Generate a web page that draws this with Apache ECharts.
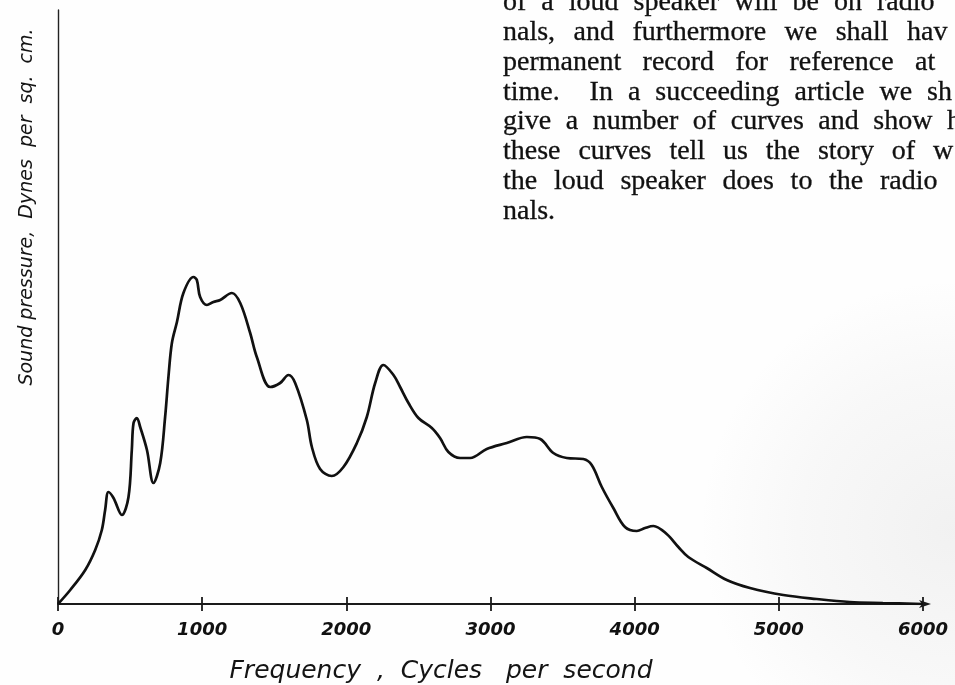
<!DOCTYPE html>
<html>
<head>
<meta charset="utf-8">
<script src="https://cdn.jsdelivr.net/npm/echarts@6/dist/echarts.min.js"></script>
<style>
  html, body { margin: 0; padding: 0; background: #fff; }
  #chart { width: 955px; height: 685px; }
</style>
</head>
<body>
<div id="chart"></div>
<script>
// Loud-speaker response curve: frequency (cycles per second) against
// relative sound pressure (arbitrary units, axis runs 0..594).
const frequencies = [
  0, 85, 189, 258, 304, 327, 350, 385, 443, 489, 512, 524, 547, 570, 617, 662,
  709, 743, 766, 790, 825, 870, 940, 963, 986, 1033, 1078, 1125, 1206, 1264,
  1333, 1379, 1472, 1541, 1599, 1645, 1726, 1761, 1818, 1899, 1980, 2073, 2142,
  2200, 2257, 2327, 2373, 2431, 2500, 2593, 2650, 2708, 2789, 2859, 2974, 3113,
  3252, 3345, 3436, 3529, 3644, 3702, 3772, 3852, 3933, 4015, 4072, 4130, 4222,
  4303, 4372, 4500, 4639, 4800, 5031, 5263, 5492, 5722, 6000
];
const soundPressure = [
  0, 14, 34, 54, 74, 94, 112, 106, 89, 107, 154, 181, 186, 177, 154, 121,
  141, 187, 227, 261, 282, 311, 327, 324, 307, 299, 302, 304, 311, 301,
  271, 247, 217, 221, 229, 221, 184, 157, 135, 128, 137, 161, 187,
  221, 239, 229, 217, 201, 186, 176, 166, 152, 146, 146, 155, 161,
  167, 165, 151, 146, 145, 139, 117, 96, 77, 73, 76, 78, 70,
  57, 47, 36, 24, 16, 9, 5, 2, 1, 0
];
const frequencyTicks = [0, 1000, 2000, 3000, 4000, 5000, 6000];
const xTitle = 'Frequency  ,  Cycles   per  second';
const yTitle = 'Sound pressure,  Dynes  per  sq.  cm.';

// Column of body text beside the figure (clipped by the page edge).
const paragraphLines = [
  'of a loud speaker will be on radio',
  'nals, and furthermore we shall hav',
  'permanent record for reference at',
  'time.  In a succeeding article we sh',
  'give a number of curves and show h',
  'these curves tell us the story of w',
  'the loud speaker does to the radio',
  'nals.'
];

// ---- page layout for the text column ----
const COLUMN_LEFT = 503;
const COLUMN_FIRST_BASELINE = 12;
const COLUMN_LEADING = 29.9;
const COLUMN_FONT_SIZE = 28;
const COLUMN_FONT = COLUMN_FONT_SIZE + 'px "Liberation Serif"';
// where the last word of each justified line begins
const lastWordStart = [877, 907, 915, 927, 947, 933, 880, null];

const measure = document.createElement('canvas').getContext('2d');
measure.font = COLUMN_FONT;

const paragraphGraphics = [];
paragraphLines.forEach(function (line, i) {
  const words = line.split(' ');
  const widths = words.map(function (w) { return measure.measureText(w).width; });
  let gap = 7;
  if (lastWordStart[i] != null && words.length > 1) {
    let used = 0;
    for (let k = 0; k < words.length - 1; k++) used += widths[k];
    gap = (lastWordStart[i] - COLUMN_LEFT - used) / (words.length - 1);
  }
  const baseline = COLUMN_FIRST_BASELINE + i * COLUMN_LEADING;
  let x = COLUMN_LEFT;
  words.forEach(function (w, k) {
    if (w) {
      paragraphGraphics.push({
        type: 'text',
        x: x,
        y: baseline - 9.5,
        style: {
          text: w,
          font: COLUMN_FONT,
          fill: '#111',
          stroke: '#111',
          lineWidth: 0.3,
          align: 'left',
          verticalAlign: 'middle'
        }
      });
    }
    x += widths[k] + gap;
  });
});

const chart = echarts.init(document.getElementById('chart'), null, { renderer: 'canvas' });

chart.setOption({
  animation: false,
  backgroundColor: '#fefefe',
  grid: { left: 58, right: 32, top: 10, bottom: 81, containLabel: false },
  xAxis: [
    {
      type: 'value',
      min: 0,
      max: 6000,
      interval: 1000,
      axisLine: {
        show: true,
        lineStyle: { color: '#1a1a1a', width: 1.8 },
        symbol: ['none', 'arrow'],
        symbolSize: [6, 12],
        symbolOffset: [0, 8]
      },
      axisTick: { show: true, inside: false, length: 7, lineStyle: { color: '#1a1a1a', width: 1.8 } },
      axisLabel: {
        show: true,
        margin: 17,
        fontSize: 18,
        color: '#111',
        fontFamily: '"DejaVu Sans"',
        fontStyle: 'italic',
        fontWeight: 'bold',
        formatter: function (v) {
          return frequencyTicks.indexOf(v) >= 0 ? String(v) : '';
        }
      },
      splitLine: { show: false }
    },
    {
      // upper half of the crossing tick marks
      type: 'value',
      position: 'bottom',
      min: 0,
      max: 6000,
      interval: 1000,
      axisLine: { show: false },
      axisTick: { show: true, inside: true, length: 7, lineStyle: { color: '#1a1a1a', width: 1.8 } },
      axisLabel: { show: false },
      splitLine: { show: false }
    }
  ],
  yAxis: {
    type: 'value',
    min: 0,
    max: 594,
    axisLine: { show: true, lineStyle: { color: '#222', width: 1.4 } },
    axisTick: { show: false },
    axisLabel: { show: false },
    splitLine: { show: false }
  },
  series: [{
    type: 'line',
    xAxisIndex: 0,
    data: frequencies.map(function (f, i) { return [f, soundPressure[i]]; }),
    showSymbol: false,
    smooth: 0.35,
    lineStyle: { color: '#111', width: 2.7 },
    z: 3
  }],
  graphic: [
    {
      // greyish wear of the paper at the lower right
      type: 'rect',
      z: -1,
      silent: true,
      shape: { x: 700, y: 200, width: 500, height: 600 },
      style: {
        fill: new echarts.graphic.RadialGradient(0.5, 0.55, 0.5, [
          { offset: 0, color: 'rgba(150,150,150,0.12)' },
          { offset: 0.6, color: 'rgba(150,150,150,0.06)' },
          { offset: 1, color: 'rgba(150,150,150,0)' }
        ])
      }
    },
    {
      type: 'text',
      x: 27,
      y: 207,
      rotation: Math.PI / 2,
      style: {
        text: yTitle,
        font: 'italic 19px "DejaVu Sans"',
        fill: '#141414',
        align: 'center',
        verticalAlign: 'middle'
      }
    },
    {
      type: 'text',
      x: 441,
      y: 671,
      style: {
        text: xTitle,
        font: 'italic 25px "DejaVu Sans"',
        fill: '#141414',
        align: 'center',
        verticalAlign: 'middle'
      }
    }
  ].concat(paragraphGraphics)
});
</script>
</body>
</html>
